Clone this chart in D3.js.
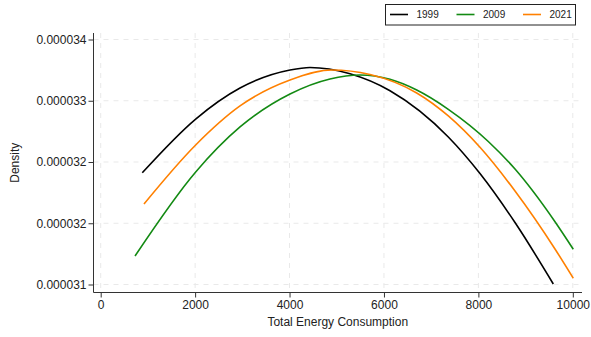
<!DOCTYPE html>
<html>
<head>
<meta charset="utf-8">
<script src="https://cdn.jsdelivr.net/npm/d3@7"></script>
<style>
  body { margin: 0; background: #fff; }
  svg { display: block; font-family: "Liberation Sans", Arial, sans-serif; }
</style>
</head>
<body>
<svg id="chart"></svg>
<script>
// values (x = energy, y = density)
const seriesNames = ['1999', '2009', '2021'];
const seriesColors = ['#000000', '#138a13', '#ff8000'];

const x1999 = [881, 2012, 2951, 4010, 4433, 5281, 6128, 7363, 8034, 8776, 9587];
const y1999 = [32.295e-6, 32.821e-6, 33.125e-6, 33.301e-6, 33.326e-6, 33.264e-6,
    33.098e-6, 32.645e-6, 32.287e-6, 31.807e-6, 31.205e-6];

const x2009 = [727, 2012, 2951, 4010, 4857, 5493, 6128, 6694, 7363, 8210, 8776, 9623, 10011];
const y2009 = [31.479e-6, 32.302e-6, 32.743e-6, 33.066e-6, 33.213e-6, 33.252e-6, 33.210e-6,
    33.105e-6, 32.916e-6, 32.601e-6, 32.331e-6, 31.815e-6, 31.545e-6];

const x2021 = [917, 2012, 2951, 4010, 4893, 5704, 6694, 7363, 8034, 8776, 9623, 10011];
const y2021 = [31.989e-6, 32.567e-6, 32.949e-6, 33.203e-6, 33.301e-6, 33.257e-6,
    33.076e-6, 32.851e-6, 32.544e-6, 32.116e-6, 31.548e-6, 31.261e-6];

const xTicks = [0, 2000, 4000, 6000, 8000, 10000];
const yTicks = [0.0000336, 0.0000330, 0.0000324, 0.0000318, 0.0000312];

const width = 591;
const height = 337;
const plot = { left: 93.5, right: 582, top: 33, bottom: 292.5 };

const svg = d3.select('#chart')
    .attr('width', width)
    .attr('height', height);

const xScale = d3.scaleLinear().domain([0, 10000]).range([100.7, 572.8]);
const yScale = d3.scaleLinear().domain([0.0000312, 0.0000336]).range([284.5, 39.5]);

// grid
const grid = svg.append('g').attr('class', 'grid');
grid.selectAll('.vgrid')
    .data(xTicks)
    .enter()
    .append('line')
    .attr('x1', (d) => xScale(d))
    .attr('x2', (d) => xScale(d))
    .attr('y1', plot.top)
    .attr('y2', plot.bottom)
    .attr('stroke', '#e9e9e9')
    .attr('stroke-dasharray', '5,5');
grid.selectAll('.hgrid')
    .data(yTicks)
    .enter()
    .append('line')
    .attr('x1', plot.left)
    .attr('x2', plot.right)
    .attr('y1', (d) => yScale(d))
    .attr('y2', (d) => yScale(d))
    .attr('stroke', '#e9e9e9')
    .attr('stroke-dasharray', '5,5');

// axes
const xAxis = d3.axisBottom(xScale)
    .tickValues(xTicks)
    .tickSize(5)
    .tickSizeOuter(0)
    .tickFormat(d3.format('d'));
const yAxis = d3.axisLeft(yScale)
    .tickValues(yTicks)
    .tickSize(5)
    .tickSizeOuter(0)
    .tickFormat(d3.format('.6f'));

const gx = svg.append('g')
    .attr('transform', `translate(0, ${plot.bottom})`)
    .call(xAxis);
gx.select('.domain').remove();
gx.selectAll('.tick line').attr('stroke', '#333');
gx.selectAll('.tick text')
    .attr('y', 8)
    .attr('font-size', 12)
    .attr('fill', '#222')
    .attr('font-family', '"Liberation Sans", Arial, sans-serif');

const gy = svg.append('g')
    .attr('transform', `translate(${plot.left}, 0)`)
    .call(yAxis);
gy.select('.domain').remove();
gy.selectAll('.tick line').attr('stroke', '#333');
gy.selectAll('.tick text')
    .attr('x', -7)
    .attr('font-size', 12)
    .attr('fill', '#222')
    .attr('font-family', '"Liberation Sans", Arial, sans-serif');

svg.append('line')
    .attr('x1', plot.left).attr('x2', plot.right)
    .attr('y1', plot.bottom).attr('y2', plot.bottom)
    .attr('stroke', '#333');
svg.append('line')
    .attr('x1', plot.left).attr('x2', plot.left)
    .attr('y1', plot.top).attr('y2', plot.bottom)
    .attr('stroke', '#333');

svg.append('text')
    .attr('x', (plot.left + plot.right) / 2)
    .attr('y', 326)
    .attr('text-anchor', 'middle')
    .attr('font-size', 12)
    .attr('fill', '#222')
    .text('Total Energy Consumption');

svg.append('text')
    .attr('transform', `translate(19, ${(plot.top + plot.bottom) / 2}) rotate(-90)`)
    .attr('text-anchor', 'middle')
    .attr('font-size', 12)
    .attr('fill', '#222')
    .text('Density');

// curves
const series = [
    { name: seriesNames[0], xs: x1999, ys: y1999 },
    { name: seriesNames[1], xs: x2009, ys: y2009 },
    { name: seriesNames[2], xs: x2021, ys: y2021 },
];
const line = d3.line()
    .x((d) => xScale(d[0]))
    .y((d) => yScale(d[1]))
    .curve(d3.curveMonotoneX);

svg.append('g')
    .attr('class', 'lines')
    .selectAll('path')
    .data(series)
    .enter()
    .append('path')
    .attr('d', (s) => line(s.xs.map((v, i) => [v, s.ys[i]])))
    .attr('fill', 'none')
    .attr('stroke', (s, i) => seriesColors[i])
    .attr('stroke-width', 1.6);

// legend
const legend = svg.append('g').attr('class', 'legend');
legend.append('rect')
    .attr('x', 385.5).attr('y', 4.5)
    .attr('width', 190).attr('height', 20.5)
    .attr('fill', '#fff')
    .attr('stroke', '#222');
const legendX = [390, 456.5, 523];
const items = legend.selectAll('.item')
    .data(seriesNames)
    .enter()
    .append('g')
    .attr('transform', (d, i) => `translate(${legendX[i]}, 14.5)`);
items.append('line')
    .attr('x1', 0).attr('x2', 18)
    .attr('stroke', (d, i) => seriesColors[i])
    .attr('stroke-width', 1.6);
items.append('text')
    .attr('x', 26.5)
    .attr('y', 3.5)
    .attr('font-size', 10)
    .attr('fill', '#222')
    .text((d) => d);
</script>
</body>
</html>
